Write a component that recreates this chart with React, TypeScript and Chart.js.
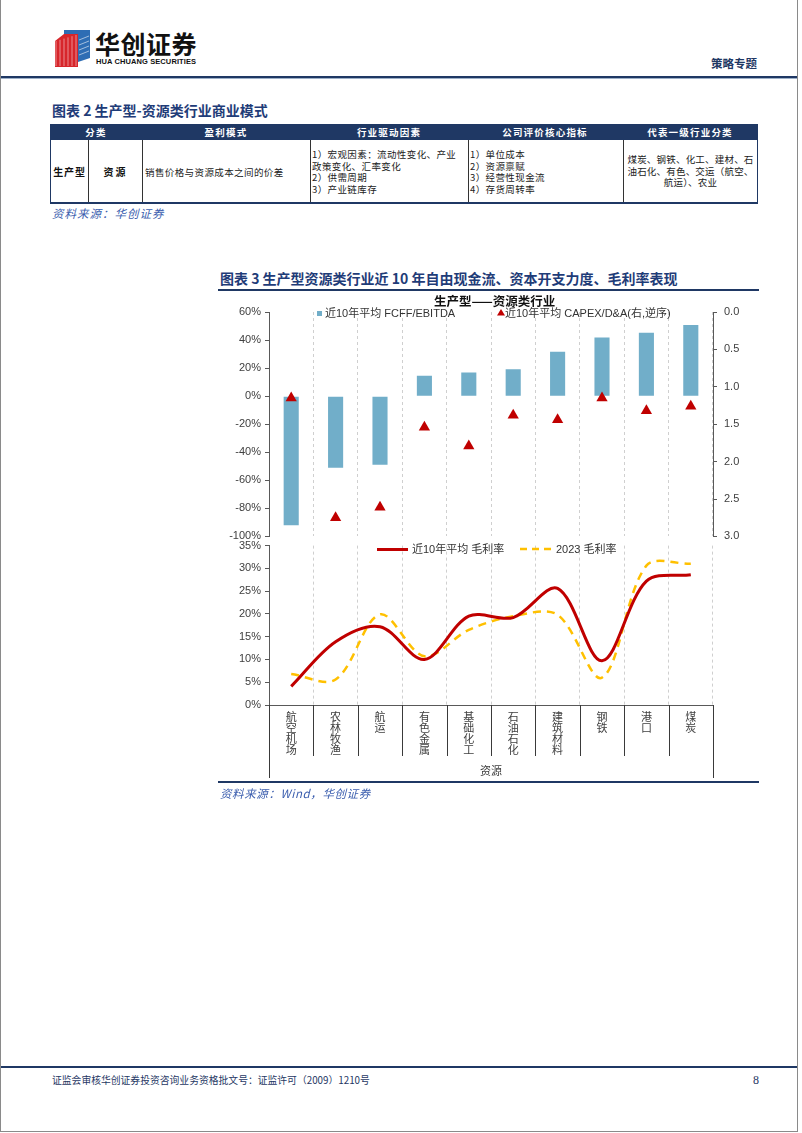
import React, { useEffect, useRef } from "react";
import { Chart, registerables } from "chart.js";

Chart.register(...registerables);

// ---------------- data ----------------
const categories: string[][] = [
  ["航", "空", "机", "场"],
  ["农", "林", "牧", "渔"],
  ["航", "运"],
  ["有", "色", "金", "属"],
  ["基", "础", "化", "工"],
  ["石", "油", "石", "化"],
  ["建", "筑", "材", "料"],
  ["钢", "铁"],
  ["港", "口"],
  ["煤", "炭"],
];
const fcffEbitda = [-92, -51, -49, 14.6, 16.8, 19.2, 31.6, 41.9, 45.2, 50.7];
const capexDa = [1.15, 2.75, 2.61, 1.54, 1.79, 1.38, 1.44, 1.15, 1.32, 1.26];
const gmAvg10y = [4.1, 13.9, 17.2, 10.0, 19.5, 19.2, 25.6, 9.7, 27.2, 28.6];
const gm2023 = [6.8, 5.6, 19.9, 10.7, 16.5, 19.5, 19.8, 6.0, 30.6, 31.0];

const seriesNames = [
  "近10年平均 FCFF/EBITDA",
  "近10年平均 CAPEX/D&A(右,逆序)",
  "近10年平均 毛利率",
  "2023 毛利率",
];
const groupLabel = "资源";
const panelTitle = "生产型——资源类行业";

const topLeftTicks = { min: -100, max: 60, step: 20 };
const topRightTicks = { min: 0, max: 3, step: 0.5 };
const bottomTicks = { min: 0, max: 35, step: 5 };

// ---------------- styles ----------------
const BAR = "#71AEC9";
const RED = "#C00000";
const GOLD = "#FFC000";
const AXIS = "#595959";
const GRID = "#CFCFCF";
const LABEL = "#404040";
const NAVY = "#1F3864";
const TITLE_BLUE = "#1F3C78";
const SRC_BLUE = "#3A5DAE";
const CJK = '"Noto Sans CJK SC", "Noto Sans", sans-serif';
const LATIN = '"Liberation Sans", "Noto Sans CJK SC", sans-serif';

Chart.defaults.font.family = LATIN;

type TProps = {
  x: number;
  cy: number;
  size: number;
  children: React.ReactNode;
  style?: React.CSSProperties;
};
const T = ({ x, cy, size, children, style }: TProps) => {
  const lh = Math.round(size * 1.3);
  return (
    <div
      style={{
        position: "absolute",
        left: x,
        top: cy - lh / 2,
        fontSize: size,
        lineHeight: `${lh}px`,
        whiteSpace: "nowrap",
        fontFamily: CJK,
        ...style,
      }}
    >
      {children}
    </div>
  );
};

const Box = (p: { l: number; t: number; w: number; h: number; bg: string }) => (
  <div style={{ position: "absolute", left: p.l, top: p.t, width: p.w, height: p.h, background: p.bg }} />
);

const separatorPlugin = {
  id: "separators",
  afterDraw(chart: any) {
    const xs = chart.scales.x;
    const ctx = chart.ctx;
    const n = chart.data.labels.length;
    const p0 = xs.getPixelForValue(0);
    const p1 = xs.getPixelForValue(1);
    const half = (p1 - p0) / 2;
    const top = chart.chartArea.bottom;
    ctx.save();
    ctx.strokeStyle = "#3a3a3a";
    ctx.lineWidth = 1;
    for (let i = 0; i <= n; i++) {
      const x = Math.round(xs.getPixelForValue(i) - half) + 0.5;
      const outer = i === 0 || i === n;
      ctx.beginPath();
      ctx.moveTo(x, top);
      ctx.lineTo(x, top + (outer ? 73 : 51));
      ctx.stroke();
    }
    ctx.fillStyle = LABEL;
    ctx.font = `11px ${CJK}`;
    ctx.textAlign = "center";
    ctx.textBaseline = "middle";
    ctx.fillText(groupLabel, (xs.left + xs.right) / 2, top + 66);
    ctx.restore();
  },
};

export default function App() {
  const topRef = useRef<HTMLCanvasElement | null>(null);
  const botRef = useRef<HTMLCanvasElement | null>(null);

  useEffect(() => {
    const yTick = { font: { size: 11 }, color: LABEL };
    const top = new Chart(topRef.current as HTMLCanvasElement, {
      type: "bar",
      data: {
        labels: categories,
        datasets: [
          {
            type: "bar",
            label: seriesNames[0],
            data: fcffEbitda,
            backgroundColor: BAR,
            yAxisID: "y",
            categoryPercentage: 1,
            barPercentage: 0.34,
            order: 2,
          } as any,
          {
            type: "line",
            label: seriesNames[1],
            data: capexDa,
            yAxisID: "y2",
            showLine: false,
            pointStyle: "triangle",
            pointRadius: 6.5,
            pointBackgroundColor: RED,
            pointBorderColor: RED,
            pointBorderWidth: 0,
            order: 1,
          } as any,
        ],
      },
      options: {
        responsive: false,
        animation: false,
        devicePixelRatio: 1,
        layout: { padding: { top: 22, bottom: 5, left: 0, right: 0 } },
        plugins: { legend: { display: false }, tooltip: { enabled: false } },
        scales: {
          x: {
            offset: true,
            ticks: { display: false },
            grid: { offset: true, color: GRID, drawTicks: false },
            border: { display: false, dash: [3, 3] },
            afterFit: (s: any) => {
              s.height = 0;
            },
          },
          y: {
            position: "left",
            min: topLeftTicks.min,
            max: topLeftTicks.max,
            ticks: { ...yTick, stepSize: topLeftTicks.step, padding: 4, callback: (v: any) => `${v}%` },
            grid: { drawOnChartArea: false, tickLength: 4, color: AXIS },
            border: { color: AXIS },
            afterFit: (s: any) => {
              s.width = 59;
            },
          },
          y2: {
            position: "right",
            reverse: true,
            min: topRightTicks.min,
            max: topRightTicks.max,
            ticks: { ...yTick, stepSize: topRightTicks.step, padding: 7, callback: (v: any) => Number(v).toFixed(1) },
            grid: { drawOnChartArea: false, tickLength: 4, color: AXIS },
            border: { color: AXIS },
            afterFit: (s: any) => {
              s.width = 77;
            },
          },
        },
      } as any,
    });

    const bot = new Chart(botRef.current as HTMLCanvasElement, {
      type: "line",
      data: {
        labels: categories,
        datasets: [
          {
            label: seriesNames[2],
            data: gmAvg10y,
            borderColor: RED,
            borderWidth: 3,
            pointRadius: 0,
            tension: 0.33,
            fill: false,
            order: 1,
          },
          {
            label: seriesNames[3],
            data: gm2023,
            borderColor: GOLD,
            borderWidth: 2.5,
            borderDash: [8, 6],
            pointRadius: 0,
            tension: 0.33,
            fill: false,
            order: 2,
          },
        ],
      },
      options: {
        responsive: false,
        animation: false,
        devicePixelRatio: 1,
        layout: { padding: { top: 10, bottom: 0, left: 0, right: 77 } },
        plugins: { legend: { display: false }, tooltip: { enabled: false } },
        scales: {
          x: {
            offset: true,
            ticks: {
              autoSkip: false,
              maxRotation: 0,
              minRotation: 0,
              padding: 6,
              color: LABEL,
              font: { size: 11, family: CJK, lineHeight: 1 },
            },
            grid: { offset: true, color: GRID, drawTicks: false },
            border: { display: true, color: AXIS, dash: [3, 3] },
            afterFit: (s: any) => {
              s.height = 85;
            },
          },
          y: {
            min: bottomTicks.min,
            max: bottomTicks.max,
            ticks: { ...yTick, stepSize: bottomTicks.step, padding: 4, callback: (v: any) => `${v}%` },
            grid: { drawOnChartArea: false, tickLength: 4, color: AXIS },
            border: { color: AXIS },
            afterFit: (s: any) => {
              s.width = 59;
            },
          },
        },
      } as any,
      plugins: [separatorPlugin],
    });

    return () => {
      top.destroy();
      bot.destroy();
    };
  }, []);

  const cell = { color: "#222", fontSize: 9.5, letterSpacing: 0.4 };

  return (
    <div
      style={{
        position: "absolute",
        left: 0,
        top: 0,
        width: 802,
        height: 1133,
        background: "#fff",
        overflow: "hidden",
        fontFamily: CJK,
      }}
    >
      {/* page frame */}
      <div
        style={{
          position: "absolute",
          left: 0,
          top: -1,
          width: 798,
          height: 1133,
          boxSizing: "border-box",
          border: "1px solid #8a8a8a",
        }}
      />

      {/* logo */}
      <svg style={{ position: "absolute", left: 52, top: 28 }} width={40} height={42} viewBox="0 0 40 42">
        <polygon points="12,2 38,2 38,30 26,34 26,10 12,10" fill="#2E6DB4" />
        <polygon points="3,13 12,6 26,6 26,39 3,39" fill="#D7262B" />
        {[0, 1, 2, 3, 4, 5].map((i) => (
          <line key={"r" + i} x1={4 + i * 4} y1={13 - i * 1.2} x2={4 + i * 4} y2={38} stroke="#fff" strokeWidth={0.8} opacity={0.6} />
        ))}
        {[0, 1, 2, 3].map((i) => (
          <line key={"b" + i} x1={27} y1={12 + i * 5} x2={37} y2={8 + i * 5} stroke="#fff" strokeWidth={0.8} opacity={0.7} />
        ))}
      </svg>
      <T x={95} cy={43} size={25} style={{ fontWeight: 700, color: "#111", letterSpacing: 0.5 }}>
        华创证券
      </T>
      <T x={96} cy={61.5} size={7.5} style={{ fontWeight: 700, color: "#111", fontFamily: LATIN, letterSpacing: 0.1 }}>
        HUA CHUANG SECURITIES
      </T>
      <T x={711} cy={63} size={11.5} style={{ color: NAVY, fontWeight: 700 }}>
        策略专题
      </T>
      <Box l={1} t={76} w={796} h={2} bg={NAVY} />
      <Box l={1} t={78} w={796} h={1} bg="#9DB0C8" />

      {/* table 2 */}
      <T x={52} cy={110} size={14} style={{ fontWeight: 700, color: TITLE_BLUE }}>
        图表 2 生产型-资源类行业商业模式
      </T>
      <Box l={50} t={124} w={708} h={16} bg={NAVY} />
      {[
        ["分类", 96],
        ["盈利模式", 226],
        ["行业驱动因素", 389],
        ["公司评价核心指标", 545],
        ["代表一级行业分类", 690],
      ].map(([t, cx]) => (
        <div
          key={t as string}
          style={{
            position: "absolute",
            left: (cx as number) - 60,
            width: 120,
            top: 125,
            height: 15,
            lineHeight: "15px",
            textAlign: "center",
            color: "#fff",
            fontWeight: 700,
            fontSize: 9.5,
            letterSpacing: 1.2,
          }}
        >
          {t}
        </div>
      ))}
      <Box l={50} t={140} w={1} h={63} bg={NAVY} />
      <Box l={757} t={140} w={1} h={63} bg={NAVY} />
      {[88, 142, 310, 468, 623].map((x) => (
        <Box key={x} l={x} t={140} w={1} h={63} bg="#333" />
      ))}
      <Box l={50} t={202} w={708} h={2} bg={NAVY} />
      <div style={{ position: "absolute", left: 51, width: 37, top: 165, lineHeight: "14px", textAlign: "center", fontSize: 10, fontWeight: 700, letterSpacing: 0.8, color: "#111" }}>
        生产型
      </div>
      <div style={{ position: "absolute", left: 89, width: 53, top: 165, lineHeight: "14px", textAlign: "center", fontSize: 10, fontWeight: 700, letterSpacing: 2, color: "#111" }}>
        资源
      </div>
      <T x={145} cy={172} size={9.5} style={cell}>
        销售价格与资源成本之间的价差
      </T>
      <div style={{ position: "absolute", left: 312, top: 149, lineHeight: "11.6px", ...cell }}>
        1）宏观因素：流动性变化、产业
        <br />
        政策变化、汇率变化
        <br />
        2）供需周期
        <br />
        3）产业链库存
      </div>
      <div style={{ position: "absolute", left: 470, top: 149, lineHeight: "11.6px", ...cell }}>
        1）单位成本
        <br />
        2）资源禀赋
        <br />
        3）经营性现金流
        <br />
        4）存货周转率
      </div>
      <div style={{ position: "absolute", left: 624, width: 133, top: 154, lineHeight: "11.6px", textAlign: "center", ...cell, letterSpacing: 0.2 }}>
        煤炭、钢铁、化工、建材、石
        <br />
        油石化、有色、交运（航空、
        <br />
        航运）、农业
      </div>
      <T x={52} cy={213} size={11.5} style={{ color: SRC_BLUE, fontStyle: "italic", letterSpacing: 1 }}>
        资料来源：华创证券
      </T>

      {/* chart 3 */}
      <T x={220} cy={278} size={14} style={{ fontWeight: 700, color: TITLE_BLUE }}>
        图表 3 生产型资源类行业近 10 年自由现金流、资本开支力度、毛利率表现
      </T>
      <Box l={218} t={289} w={541} h={2} bg={NAVY} />

      <canvas ref={topRef} width={580} height={260} style={{ position: "absolute", left: 210, top: 290 }} />
      <canvas ref={botRef} width={580} height={255} style={{ position: "absolute", left: 210, top: 535 }} />

      <T x={434} cy={301} size={12.5} style={{ fontWeight: 700, color: "#111" }}>
        {panelTitle}
      </T>
      <Box l={317} t={311} w={5} h={5} bg={BAR} />
      <T x={325} cy={313} size={11} style={{ color: "#333", fontFamily: LATIN }}>
        {seriesNames[0]}
      </T>
      <svg style={{ position: "absolute", left: 497, top: 308 }} width={8} height={8}>
        <polygon points="4,1 8,7.5 0,7.5" fill={RED} />
      </svg>
      <T x={505} cy={313} size={11} style={{ color: "#333", fontFamily: LATIN }}>
        {seriesNames[1]}
      </T>
      <Box l={377} t={548} w={31} h={3} bg={RED} />
      <T x={412} cy={549} size={11} style={{ color: "#333", fontFamily: LATIN }}>
        {seriesNames[2]}
      </T>
      <svg style={{ position: "absolute", left: 520, top: 546 }} width={34} height={6}>
        <line x1={0} y1={3} x2={34} y2={3} stroke={GOLD} strokeWidth={2.5} strokeDasharray="7,5" />
      </svg>
      <T x={556} cy={549} size={11} style={{ color: "#333", fontFamily: LATIN }}>
        {seriesNames[3]}
      </T>

      <Box l={218} t={781} w={541} h={2} bg={NAVY} />
      <T x={220} cy={793} size={11.5} style={{ color: SRC_BLUE, fontStyle: "italic", letterSpacing: 0.6 }}>
        资料来源：Wind，华创证券
      </T>

      {/* footer */}
      <Box l={1} t={1066} w={796} h={2} bg={NAVY} />
      <T x={52} cy={1080} size={9.8} style={{ color: NAVY }}>
        证监会审核华创证券投资咨询业务资格批文号：证监许可（2009）1210号
      </T>
      <T x={753} cy={1080} size={12} style={{ color: NAVY, fontFamily: '"Liberation Serif", serif' }}>
        8
      </T>
    </div>
  );
}
